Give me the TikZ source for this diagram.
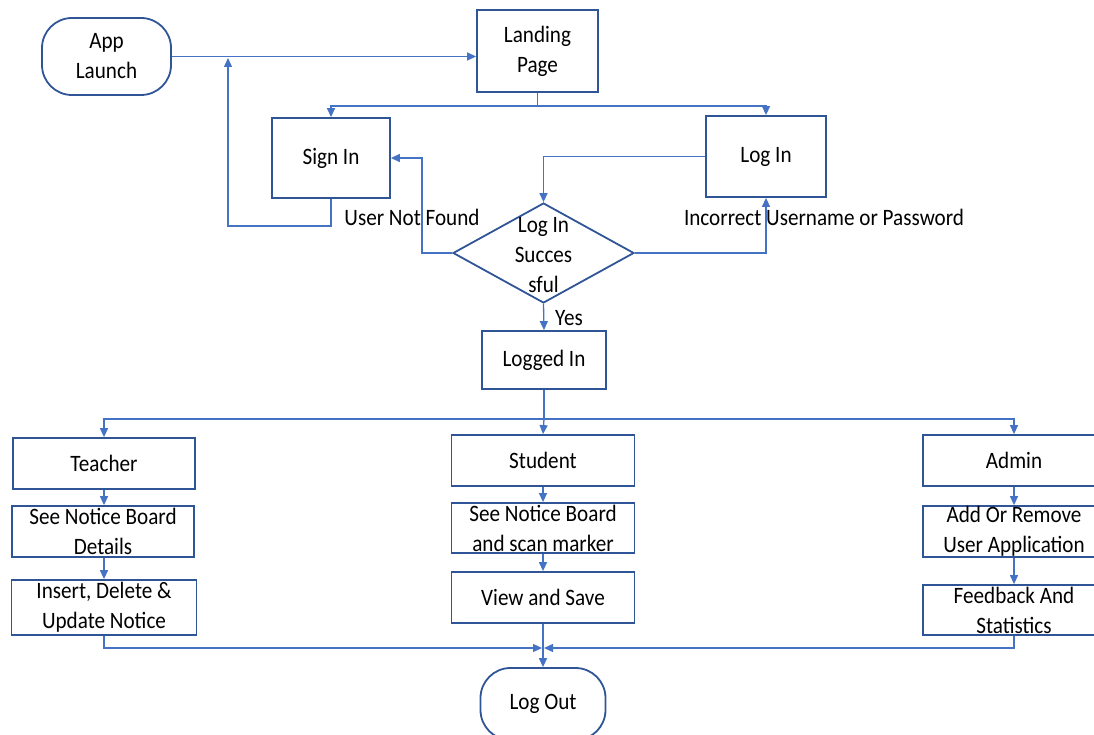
\documentclass[tikz,border=0pt]{standalone}
\usepackage{fontspec}
\setmainfont{Carlito}[FakeStretch=0.9]
\usetikzlibrary{arrows.meta,shapes.geometric}
\definecolor{boxblue}{HTML}{2F5597}
\definecolor{lineblue}{HTML}{4472C4}
\begin{document}
\begin{tikzpicture}[x=1pt,y=-1pt,
  every node/.style={font=\fontsize{23.5}{30}\selectfont, align=center, text=black},
  box/.style={draw=boxblue, line width=1.8pt, rectangle, inner sep=0pt},
  term/.style={box, rounded corners=30pt},
  arr/.style={draw=lineblue, line width=1.3pt, -{Triangle[length=9pt,width=8pt]}},
  ln/.style={draw=lineblue, line width=1.3pt}]
\useasboundingbox (0,0) rectangle (1094,735);
\clip (0,0) rectangle (1094,735);
% top part
\node[term, minimum width=129pt, minimum height=77pt] (app) at (106.5,56.5) {App\\Launch};
\node[box, minimum width=121pt, minimum height=82pt] (landing) at (537.5,51) {Landing\\Page};
\node[box, minimum width=118pt, minimum height=80pt] (signin) at (331,158) {Sign In};
\node[box, minimum width=120pt, minimum height=81pt] (login) at (766,156.5) {Log In};
\node[diamond, draw=boxblue, line width=1.8pt, inner sep=0pt, shape aspect=1.81,
      minimum width=181pt, minimum height=100pt] (dec) at (543.5,253) {};
\node (dectext) at (543.5,255) {Log In\\Succes\\sful};
\node (notfound) at (412,217) {User Not Found};
\node (incorrect) at (824,217) {Incorrect Username or Password};
\node (yes) at (569,318) {Yes};
\node[box, minimum width=124pt, minimum height=58pt] (logged) at (544,360) {Logged In};
% teacher column
\node[box, minimum width=182pt, minimum height=51pt] (teacher) at (104,463.5) {Teacher};
\node[box, minimum width=182pt, minimum height=51pt] (tdet) at (103,531.5) {See Notice Board\\Details};
\node[box, minimum width=185pt, minimum height=55pt] (tins) at (104,607.5) {Insert, Delete \&\\Update Notice};
% student column
\node[box, minimum width=183pt, minimum height=51pt] (student) at (543,460.5) {Student};
\node[box, minimum width=183pt, minimum height=50pt] (sscan) at (543,528) {See Notice Board\\and scan marker};
\node[box, minimum width=183pt, minimum height=51pt] (sview) at (543,597.5) {View and Save};
% admin column
\node[box, minimum width=182pt, minimum height=51pt] (admin) at (1014,460.5) {Admin};
\node[box, minimum width=182pt, minimum height=51pt] (aadd) at (1014,531.5) {Add Or Remove\\User Application};
\node[box, minimum width=182pt, minimum height=50pt] (afeed) at (1014,610) {Feedback And\\Statistics};
% log out
\node[term, minimum width=125pt, minimum height=72pt] (logout) at (543,704) {Log Out};
% connectors
\draw[arr] (app.east) -- (app.east -| landing.west);
\draw[ln] (landing.south) -- ++(0,13) coordinate (lsplit);
\draw[arr] (lsplit) -| (signin.north);
\draw[arr] (lsplit) -| (login.north);
\coordinate (loopend) at (228,58);
\draw[arr] (signin.south) -- ++(0,27) -| (loopend);
\draw[arr] (login.west) -| (dec.north);
\draw[arr] (dec.west) -- ++(-30,0) |- (signin.east);
\draw[arr] (dec.east) -| (login.south);
\draw[arr] (dec.south) -- (logged.north);
\draw[ln] (logged.south) -- ++(0,29) coordinate (rsplit);
\draw[arr] (rsplit) -| (teacher.north);
\draw[arr] (rsplit) -- (student.north);
\draw[arr] (rsplit) -| (admin.north);
\draw[arr] (teacher.south) -- (teacher.south |- tdet.north);
\draw[arr] (teacher.south |- tdet.south) -- (teacher.south |- tins.north);
\draw[arr] (student.south) -- (sscan.north);
\draw[arr] (sscan.south) -- (sview.north);
\draw[arr] (admin.south) -- (aadd.north);
\draw[arr] (aadd.south) -- (afeed.north);
\coordinate (join) at (543,648);
\draw[arr] (tins.south) |- ([xshift=-1pt]join);
\draw[arr] (afeed.south) |- ([xshift=1pt]join);
\draw[arr] (sview.south) -- (logout.north);
\end{tikzpicture}
\end{document}
